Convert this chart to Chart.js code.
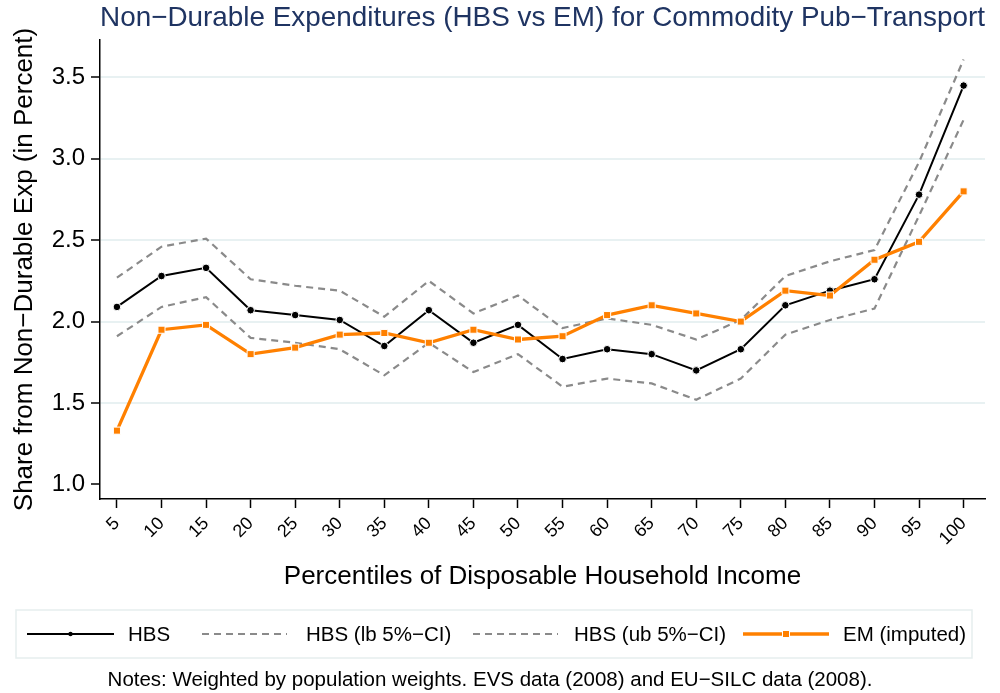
<!DOCTYPE html>
<html lang="en">
<head>
  <meta charset="UTF-8" />
  <title>Non-Durable Expenditures - Pub-Transport</title>
  <script src="https://cdn.jsdelivr.net/npm/chart.js"></script>
  <style>
    html, body { margin: 0; padding: 0; background: #fff; }
    #wrap { position: relative; width: 1000px; height: 693px; }
  </style>
</head>
<body>
  <div id="wrap">
    <canvas id="lineChart"></canvas>
  </div>

  <script>
    // Data
    const percentiles = [5, 10, 15, 20, 25, 30, 35, 40, 45, 50, 55, 60, 65, 70, 75, 80, 85, 90, 95, 100];
    const hbs   = [2.09, 2.28, 2.33, 2.07, 2.04, 2.01, 1.85, 2.07, 1.87, 1.98, 1.77, 1.83, 1.80, 1.70, 1.83, 2.10, 2.19, 2.26, 2.78, 3.45];
    const hbsLb = [1.91, 2.09, 2.15, 1.90, 1.87, 1.83, 1.67, 1.87, 1.69, 1.80, 1.60, 1.65, 1.62, 1.52, 1.65, 1.92, 2.01, 2.08, 2.65, 3.24];
    const hbsUb = [2.27, 2.46, 2.51, 2.26, 2.22, 2.19, 2.03, 2.25, 2.05, 2.16, 1.96, 2.02, 1.98, 1.89, 2.01, 2.28, 2.37, 2.44, 2.98, 3.61];
    const em    = [1.33, 1.95, 1.98, 1.80, 1.84, 1.92, 1.93, 1.87, 1.95, 1.89, 1.91, 2.04, 2.10, 2.05, 2.00, 2.19, 2.16, 2.38, 2.49, 2.80];
    const yTicks = [1.0, 1.5, 2.0, 2.5, 3.0, 3.5];
    const xTicks = percentiles;
    const seriesNames = ['HBS', 'HBS (lb 5%\u2212CI)', 'HBS (ub 5%\u2212CI)', 'EM (imputed)'];

    const FONT = "'Liberation Sans', Arial, Helvetica, sans-serif";
    const ORANGE = '#ff8000';
    const GREY = '#8a8a8a';

    function pairs(vals) {
      return vals.map((v, i) => ({ x: percentiles[i], y: v }));
    }

    // legend box + notes drawn under the plot
    const legendAndNotes = {
      id: 'legendAndNotes',
      afterDraw(chart) {
        const ctx = chart.ctx;
        ctx.save();
        ctx.fillStyle = '#fff';
        ctx.strokeStyle = '#e6eeee';
        ctx.lineWidth = 1.5;
        ctx.fillRect(16, 610, 956, 48);
        ctx.strokeRect(16, 610, 956, 48);

        const y = 634;
        const items = [
          { x0: 27, x1: 114, tx: 128, ds: 0 },
          { x0: 202, x1: 287, tx: 306, ds: 1 },
          { x0: 473, x1: 558, tx: 574, ds: 2 },
          { x0: 743, x1: 829, tx: 843, ds: 3 }
        ];
        items.forEach(it => {
          const d = chart.data.datasets[it.ds];
          ctx.strokeStyle = d.borderColor;
          ctx.lineWidth = d.borderWidth;
          ctx.setLineDash(d.borderDash || []);
          ctx.beginPath();
          ctx.moveTo(it.x0, y);
          ctx.lineTo(it.x1, y);
          ctx.stroke();
          ctx.setLineDash([]);
          const mx = (it.x0 + it.x1) / 2;
          if (it.ds === 0) {
            ctx.fillStyle = '#000';
            ctx.beginPath();
            ctx.arc(mx, y, 2.2, 0, Math.PI * 2);
            ctx.fill();
          } else if (it.ds === 3) {
            ctx.fillStyle = '#fff';
            ctx.fillRect(mx - 4, y - 4, 8, 8);
            ctx.fillStyle = ORANGE;
            ctx.fillRect(mx - 3, y - 3, 6, 6);
          }
          ctx.fillStyle = '#000';
          ctx.font = '20.5px ' + FONT;
          ctx.textBaseline = 'middle';
          ctx.textAlign = 'left';
          ctx.fillText(d.label, it.tx, y + 1);
        });

        ctx.font = '20.5px ' + FONT;
        ctx.textAlign = 'center';
        ctx.fillStyle = '#000';
        ctx.fillText('Notes: Weighted by population weights. EVS data (2008) and EU\u2212SILC data (2008).', 490, 680);
        ctx.restore();
      }
    };

    const ctx = document.getElementById('lineChart').getContext('2d');
    new Chart(ctx, {
      type: 'line',
      data: {
        datasets: [
          {
            label: seriesNames[0],
            data: pairs(hbs),
            borderColor: '#000',
            borderWidth: 2,
            pointStyle: 'circle',
            pointRadius: 3.8,
            pointBackgroundColor: '#000',
            pointBorderColor: '#fff',
            pointBorderWidth: 1,
            order: 1
          },
          {
            label: seriesNames[1],
            data: pairs(hbsLb),
            borderColor: GREY,
            borderWidth: 2.2,
            borderDash: [7, 5],
            pointRadius: 0,
            order: 2
          },
          {
            label: seriesNames[2],
            data: pairs(hbsUb),
            borderColor: GREY,
            borderWidth: 2.2,
            borderDash: [7, 5],
            pointRadius: 0,
            order: 3
          },
          {
            label: seriesNames[3],
            data: pairs(em),
            borderColor: ORANGE,
            borderWidth: 3.3,
            pointStyle: 'rect',
            pointRadius: 5,
            pointBackgroundColor: ORANGE,
            pointBorderColor: '#fff',
            pointBorderWidth: 1,
            order: 0
          }
        ]
      },
      options: {
        responsive: true,
        maintainAspectRatio: false,
        animation: false,
        devicePixelRatio: 1,
        layout: {
          autoPadding: false,
          padding: { left: 0, right: 15, top: 0, bottom: 99 }
        },
        elements: { line: { tension: 0 } },
        plugins: {
          legend: { display: false },
          tooltip: { enabled: false },
          title: {
            display: true,
            fullSize: false,
            text: 'Non\u2212Durable Expenditures (HBS vs EM) for Commodity Pub\u2212Transport',
            color: '#1f3462',
            font: { family: FONT, size: 28, weight: 'normal' },
            padding: { top: 1, bottom: 5.4 }
          }
        },
        scales: {
          x: {
            type: 'linear',
            min: 3.1,
            max: 102.4,
            afterBuildTicks: s => { s.ticks = xTicks.map(v => ({ value: v })); },
            afterFit: s => { s.height = 95; },
            border: { display: true, color: '#000', width: 1.5 },
            grid: { drawOnChartArea: false, tickLength: 9, tickColor: '#000', tickWidth: 1.5 },
            ticks: {
              autoSkip: false,
              minRotation: 45,
              maxRotation: 45,
              padding: 5,
              color: '#000',
              font: { family: FONT, size: 18 },
              callback: v => String(v)
            },
            title: {
              display: true,
              text: 'Percentiles of Disposable Household Income',
              color: '#000',
              font: { family: FONT, size: 26 },
              padding: { top: 0, bottom: 1.4 }
            }
          },
          y: {
            min: 0.91,
            max: 3.73,
            afterBuildTicks: s => { s.ticks = yTicks.map(v => ({ value: v })); },
            afterFit: s => { s.width = 100; },
            border: { display: true, color: '#000', width: 1.5 },
            grid: {
              color: c => (c.tick && c.tick.value === 1.0) ? 'rgba(0,0,0,0)' : '#e8f1f2',
              lineWidth: 2,
              tickLength: 9,
              tickColor: '#000',
              tickWidth: 1.5
            },
            ticks: {
              padding: 6,
              color: '#000',
              font: { family: FONT, size: 24 },
              callback: v => Number(v).toFixed(1)
            },
            title: {
              display: true,
              text: 'Share from Non\u2212Durable Exp (in Percent)',
              color: '#000',
              font: { family: FONT, size: 26 },
              padding: { top: 9.4, bottom: 0 }
            }
          }
        }
      },
      plugins: [legendAndNotes]
    });
  </script>
</body>
</html>
